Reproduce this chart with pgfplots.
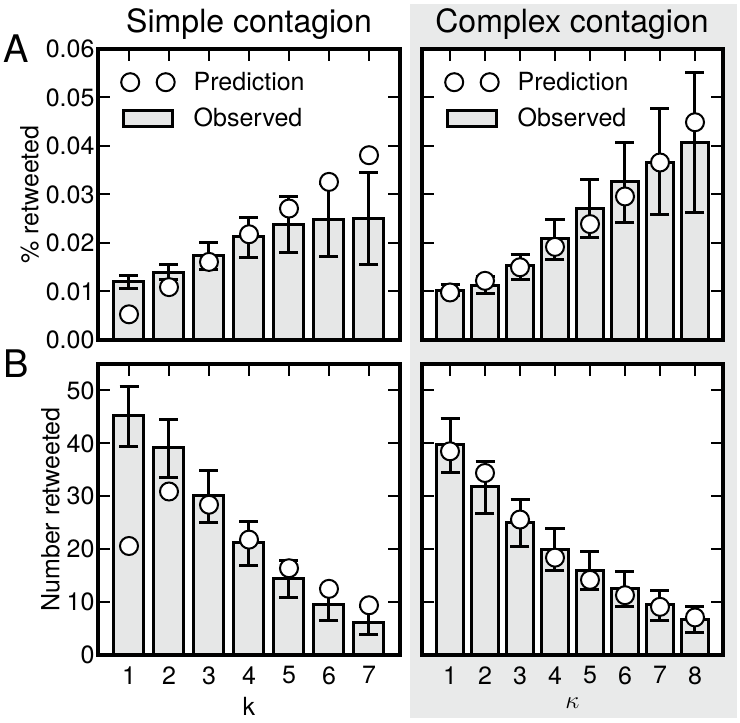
\documentclass[border=0pt]{standalone}
\usepackage{pgfplots}
\pgfplotsset{compat=1.18}
\usepackage{pgfplotstable}
\usepackage{fontspec}
\setmainfont{TeX Gyre Heros}
\definecolor{panelgray}{RGB}{233,234,234}
\definecolor{bargray}{RGB}{230,231,231}

\pgfplotstableread{
x y ep em pred
1 0.0120 0.0014 0.0013 0.0053
2 0.0140 0.0016 0.0016 0.0109
3 0.0175 0.0026 0.0029 0.0161
4 0.0213 0.0040 0.0042 0.0218
5 0.0239 0.0056 0.0058 0.0271
6 0.0249 0.0074 0.0076 0.0326
7 0.0250 0.0095 0.0094 0.0381
}\tabA
\pgfplotstableread{
x y ep em pred
1 0.0103 0.0012 0.0012 0.0098
2 0.0113 0.0017 0.0017 0.0122
3 0.0153 0.0024 0.0028 0.0150
4 0.0210 0.0039 0.0043 0.0192
5 0.0272 0.0059 0.0061 0.0239
6 0.0326 0.0082 0.0084 0.0296
7 0.0367 0.0110 0.0108 0.0366
8 0.0407 0.0144 0.0144 0.0449
}\tabB
\pgfplotstableread{
x y ep em pred
1 45.2 5.6 5.7 20.6
2 39.2 5.3 5.6 30.9
3 30.1 4.8 5.1 28.4
4 21.3 4.0 4.3 21.8
5 14.5 3.4 3.6 16.4
6 9.6 2.9 3.0 12.5
7 6.2 3.0 2.4 9.4
}\tabC
\pgfplotstableread{
x y ep em pred
1 39.8 4.9 5.3 38.5
2 31.8 4.8 5.1 34.4
3 25.1 4.3 4.5 25.6
4 19.9 4.0 4.0 18.4
5 16.0 3.5 3.7 14.2
6 12.6 3.1 3.4 11.3
7 9.6 2.5 3.1 9.1
8 6.7 2.4 2.4 7.1
}\tabD

\pgfplotsset{
 myax/.style={
  scale only axis, height=291pt,
  axis background/.style={fill=white},
  axis line style={line width=3.5pt},
  tick align=inside, tick pos=both,
  major tick length=12pt,
  tick style={black, line width=2pt},
  tick label style={font=\fontsize{25}{29}\selectfont},
  xticklabel style={yshift=-8pt},
  label style={font=\fontsize{25}{29}\selectfont},
  xlabel style={yshift=-6pt},
  /pgf/number format/assume math mode=true,
  scaled y ticks=false,
  ymin=0,
 },
 toprow/.style={ymax=0.06, ytick={0,0.01,0.02,0.03,0.04,0.05,0.06},
  yticklabel style={/pgf/number format/.cd, fixed, fixed zerofill, precision=2},
  xticklabels={},
  legend style={at={(axis description cs:0,1)}, anchor=north west, xshift=22pt, yshift=-23pt,
    draw=none, fill=none, inner sep=0pt, row sep=16pt, column sep=18pt,
    font=\fontsize{25}{29}\selectfont, nodes={inner sep=0pt}},
  legend cell align=left},
 botrow/.style={ymax=55, ytick={0,10,20,30,40,50}},
 barst/.style={ybar, bar width=#1, fill=bargray, draw=black, line width=3pt,
  /pgfplots/error bars/y dir=both, /pgfplots/error bars/y explicit,
  /pgfplots/error bars/error bar style={line width=3pt, black, solid},
  /pgfplots/error bars/error mark options={rotate=90, mark size=9.5pt, line width=3pt, black}},
 predst/.style={only marks, mark=*, mark size=9pt, mark options={fill=white, draw=black, line width=2pt}},
}

\begin{document}
\begin{tikzpicture}
\path[use as bounding box] (0pt,0pt) rectangle (740pt,723pt);
\fill[panelgray] (410pt,5pt) rectangle (737pt,719pt);

% top left
\begin{axis}[myax, toprow, at={(98pt,383pt)}, anchor=south west, width=302pt,
  xmin=0.225, xmax=7.775, xtick={1,...,7}, ylabel={\% retweeted}]
\addlegendimage{legend image code/.code={\draw[line width=2pt, fill=white] (8.5pt,0pt) circle[radius=9pt] (44pt,0pt) circle[radius=9pt];}}
\addlegendentry{Prediction}
\addlegendimage{legend image code/.code={\draw[line width=3pt, fill=bargray] (1.5pt,-8pt) rectangle (50.5pt,8pt);}}
\addlegendentry{Observed}
\addplot[forget plot, barst=30pt] table[x=x, y=y, y error plus=ep, y error minus=em] {\tabA};
\addplot[forget plot, predst] table[x=x, y=pred] {\tabA};
\end{axis}

% top right
\begin{axis}[myax, toprow, at={(422pt,383pt)}, anchor=south west, width=301pt,
  xmin=0.2, xmax=8.8, xtick={1,...,8}, yticklabels={}]
\addlegendimage{legend image code/.code={\draw[line width=2pt, fill=white] (8.5pt,0pt) circle[radius=9pt] (44pt,0pt) circle[radius=9pt];}}
\addlegendentry{Prediction}
\addlegendimage{legend image code/.code={\draw[line width=3pt, fill=bargray] (1.5pt,-8pt) rectangle (50.5pt,8pt);}}
\addlegendentry{Observed}
\addplot[forget plot, barst=27pt] table[x=x, y=y, y error plus=ep, y error minus=em] {\tabB};
\addplot[forget plot, predst] table[x=x, y=pred] {\tabB};
\end{axis}

% bottom left
\begin{axis}[myax, botrow, at={(98pt,68pt)}, anchor=south west, width=302pt,
  xmin=0.225, xmax=7.775, xtick={1,...,7}, ylabel={Number retweeted}, xlabel={k}]
\addplot[barst=30pt] table[x=x, y=y, y error plus=ep, y error minus=em] {\tabC};
\addplot[predst] table[x=x, y=pred] {\tabC};
\end{axis}

% bottom right
\begin{axis}[myax, botrow, at={(422pt,68pt)}, anchor=south west, width=301pt,
  xmin=0.2, xmax=8.8, xtick={1,...,8}, yticklabels={}, xlabel={$\kappa$}]
\addplot[barst=27pt] table[x=x, y=y, y error plus=ep, y error minus=em] {\tabD};
\addplot[predst] table[x=x, y=pred] {\tabD};
\end{axis}

\node[anchor=base, font=\fontsize{32}{36}\selectfont] at (249pt,690pt) {Simple contagion};
\node[anchor=base, font=\fontsize{32}{36}\selectfont] at (572pt,690pt) {Complex contagion};
\node[anchor=base west, inner sep=0pt, font=\fontsize{38}{42}\selectfont] at (3pt,660pt) {A};
\node[anchor=base west, inner sep=0pt, font=\fontsize{38}{42}\selectfont] at (3pt,345pt) {B};
\end{tikzpicture}
\end{document}
